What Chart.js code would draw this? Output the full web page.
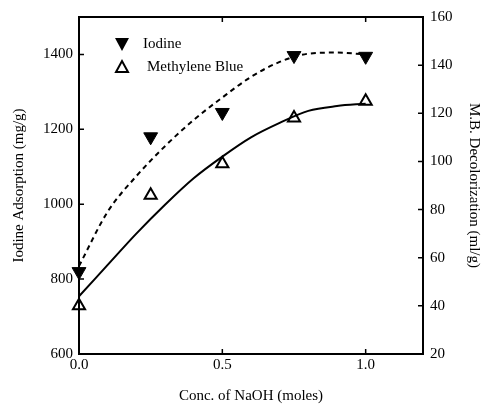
<!DOCTYPE html>
<html>
<head>
<meta charset="utf-8">
<script src="https://cdn.jsdelivr.net/npm/chart.js@4/dist/chart.umd.min.js"></script>
<style>
  html, body { margin: 0; padding: 0; background: #fff; }
  #wrap { width: 487px; height: 409px; }
</style>
</head>
<body>
<div id="wrap"><canvas id="c" width="487" height="409"></canvas></div>
<script>
// ---- data ----
const naohConc = [0.0, 0.25, 0.5, 0.75, 1.0];
const iodineValues = [820, 1180, 1245, 1397, 1395];
const mbValues = [40, 86, 99, 118, 125];

const fitConc = [0.0, 0.1, 0.2, 0.3, 0.4, 0.5, 0.6, 0.7, 0.8, 0.9, 1.0];
const iodineFit = [835, 980, 1075, 1155, 1225, 1285, 1340, 1380, 1402, 1405, 1400];
const mbFit = [44, 57, 70, 82, 93, 102, 110, 116, 121, 123, 124];

const xTickValues = [0.0, 0.5, 1.0];
const leftTickValues = [600, 800, 1000, 1200, 1400];
const rightTickValues = [20, 40, 60, 80, 100, 120, 140, 160];

const xTitle = 'Conc. of NaOH (moles)';
const leftTitle = 'Iodine Adsorption (mg/g)';
const rightTitle = 'M.B. Decolorization (ml/g)';
const legendLabels = ['Iodine', 'Methylene Blue'];

const pts = (xs, ys) => xs.map((x, i) => ({ x: x, y: ys[i] }));
const FONT = '"Liberation Serif", "DejaVu Serif", serif';

const frame = {
  id: 'frame',
  afterDraw(chart) {
    const ctx = chart.ctx, a = chart.chartArea;
    const sx = chart.scales.x, sy = chart.scales.y, sy2 = chart.scales.y2;
    ctx.save();
    ctx.strokeStyle = '#000';
    ctx.lineWidth = 2;
    ctx.strokeRect(a.left, a.top, a.right - a.left, a.bottom - a.top);
    ctx.lineWidth = 1.5;
    const L = 5;
    ctx.beginPath();
    xTickValues.forEach(v => {
      const px = sx.getPixelForValue(v);
      ctx.moveTo(px, a.bottom); ctx.lineTo(px, a.bottom - L);
      ctx.moveTo(px, a.top); ctx.lineTo(px, a.top + L);
    });
    leftTickValues.forEach(v => {
      const py = sy.getPixelForValue(v);
      ctx.moveTo(a.left, py); ctx.lineTo(a.left + L, py);
    });
    rightTickValues.forEach(v => {
      const py = sy2.getPixelForValue(v);
      ctx.moveTo(a.right, py); ctx.lineTo(a.right - L, py);
    });
    ctx.stroke();

    // legend inside plot
    const lx = a.left + 43, ly1 = a.top + 27, ly2 = a.top + 50;
    ctx.fillStyle = '#000';
    ctx.beginPath();
    ctx.moveTo(lx - 7, ly1 - 6); ctx.lineTo(lx + 7, ly1 - 6); ctx.lineTo(lx, ly1 + 7); ctx.closePath();
    ctx.fill();
    ctx.lineWidth = 2;
    ctx.beginPath();
    ctx.moveTo(lx - 6, ly2 + 5); ctx.lineTo(lx + 6, ly2 + 5); ctx.lineTo(lx, ly2 - 6); ctx.closePath();
    ctx.stroke();
    ctx.font = '15px ' + FONT;
    ctx.textBaseline = 'middle';
    ctx.textAlign = 'left';
    ctx.fillText(legendLabels[0], lx + 21, ly1);
    ctx.fillText(legendLabels[1], lx + 25, ly2);
    ctx.restore();
  }
};

new Chart(document.getElementById('c'), {
  type: 'scatter',
  data: {
    datasets: [
      {
        label: legendLabels[0] + ' fit',
        data: pts(fitConc, iodineFit),
        yAxisID: 'y',
        showLine: true,
        borderColor: '#000',
        borderWidth: 2,
        borderDash: [5, 4],
        pointRadius: 0,
        cubicInterpolationMode: 'monotone',
        fill: false
      },
      {
        label: legendLabels[1] + ' fit',
        data: pts(fitConc, mbFit),
        yAxisID: 'y2',
        showLine: true,
        borderColor: '#000',
        borderWidth: 2,
        pointRadius: 0,
        cubicInterpolationMode: 'monotone',
        fill: false
      },
      {
        label: legendLabels[0],
        data: pts(naohConc, iodineValues),
        yAxisID: 'y',
        showLine: false,
        pointStyle: 'triangle',
        rotation: 180,
        pointRadius: 8,
        backgroundColor: '#000',
        borderColor: '#000',
        borderWidth: 1,
        clip: false
      },
      {
        label: legendLabels[1],
        data: pts(naohConc, mbValues),
        yAxisID: 'y2',
        showLine: false,
        pointStyle: 'triangle',
        pointRadius: 7,
        backgroundColor: '#fff',
        borderColor: '#000',
        borderWidth: 2,
        clip: false
      }
    ]
  },
  options: {
    responsive: false,
    animation: false,
    layout: { padding: { top: 17, right: 0, left: 0, bottom: 0 } },
    plugins: { legend: { display: false }, tooltip: { enabled: false } },
    scales: {
      x: {
        type: 'linear',
        min: 0, max: 1.2,
        afterFit(s) { s.height = 55; },
        afterBuildTicks(s) { s.ticks = xTickValues.map(v => ({ value: v })); },
        grid: { display: false, drawTicks: false },
        border: { display: false },
        ticks: {
          color: '#000', padding: 2,
          font: { family: FONT, size: 15 },
          callback: v => Number(v).toFixed(1)
        },
        title: { display: true, text: xTitle, color: '#000', font: { family: FONT, size: 15 }, padding: { top: 9 } }
      },
      y: {
        type: 'linear', position: 'left',
        min: 600, max: 1500,
        afterFit(s) { s.width = 79; },
        afterBuildTicks(s) { s.ticks = leftTickValues.map(v => ({ value: v })); },
        grid: { display: false, drawTicks: false },
        border: { display: false },
        ticks: { color: '#000', padding: 6, font: { family: FONT, size: 15 }, callback: v => String(v) },
        title: { display: true, text: leftTitle, color: '#000', font: { family: FONT, size: 15 }, padding: { top: 10 } }
      },
      y2: {
        type: 'linear', position: 'right',
        min: 20, max: 160,
        afterFit(s) { s.width = 64; },
        afterBuildTicks(s) { s.ticks = rightTickValues.map(v => ({ value: v })); },
        grid: { display: false, drawTicks: false },
        border: { display: false },
        ticks: { color: '#000', padding: 7, font: { family: FONT, size: 15 }, callback: v => String(v) },
        title: { display: true, text: rightTitle, color: '#000', font: { family: FONT, size: 15 }, padding: { top: 4 } }
      }
    }
  },
  plugins: [frame]
});
</script>
</body>
</html>
